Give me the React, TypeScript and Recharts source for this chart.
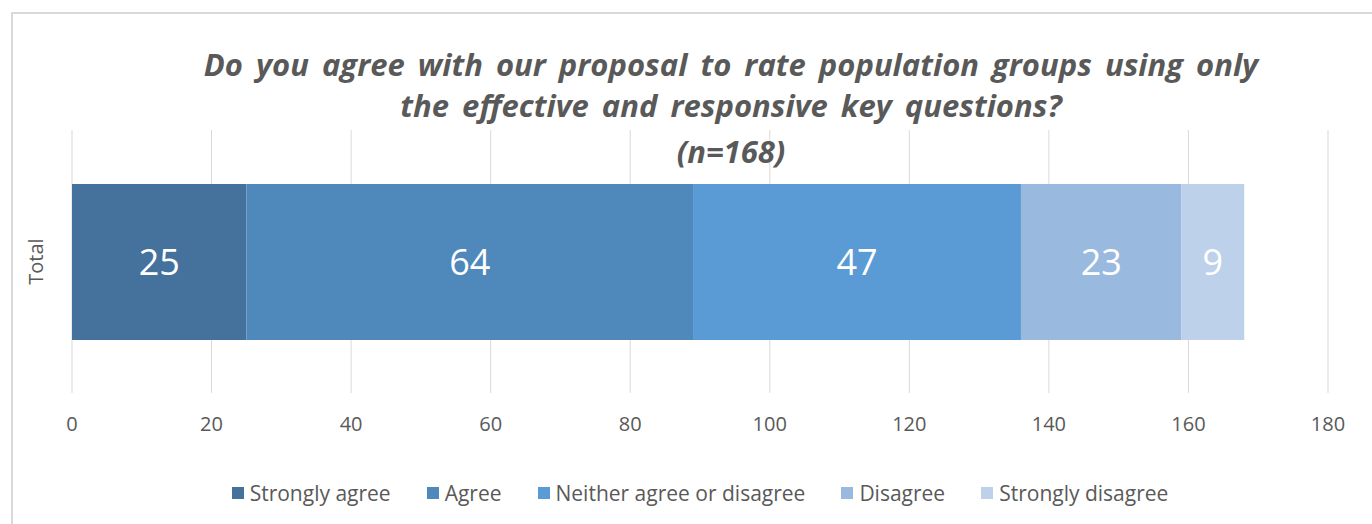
import { BarChart, Bar, XAxis, YAxis, CartesianGrid, Legend, LabelList } from 'recharts';

const CATEGORIES = ['Total'];
const SERIES = ['Strongly agree', 'Agree', 'Neither agree or disagree', 'Disagree', 'Strongly disagree'];
const VALUES = [25, 64, 47, 23, 9];
const COLORS = ['#44729D', '#4F88BB', '#5B9BD5', '#9AB9DF', '#BDD1EA'];
const X_TICKS = [0, 20, 40, 60, 80, 100, 120, 140, 160, 180];
const TITLE_LINES = [
  'Do you agree with our proposal to rate population groups using only',
  'the effective and responsive key questions?',
  '(n=168)',
];

const FONT = '"Open Sans", "Noto Sans", sans-serif';
const GREY = '#595959';
const GRID = '#d9d9d9';

const data = CATEGORIES.map((name) => {
  const row: Record<string, string | number> = { name };
  SERIES.forEach((s, i) => { row[s] = VALUES[i]; });
  return row;
});

function CategoryTick({ x, y, payload }: any) {
  const cx = x - 29;
  return (
    <text x={cx} y={y} transform={`rotate(-90 ${cx} ${y})`} textAnchor="middle" dominantBaseline="central"
      fill={GREY} fontSize={20} fontFamily={FONT}>
      {payload.value}
    </text>
  );
}

function LegendContent({ payload }: any) {
  const items = [...(payload || [])].sort((a: any, b: any) => SERIES.indexOf(a.value) - SERIES.indexOf(b.value));
  return (
    <div style={{ display: 'flex', justifyContent: 'center', gap: 36, fontFamily: FONT, fontSize: 21, color: GREY }}>
      {items.map((p: any) => (
        <span key={p.value} style={{ display: 'flex', alignItems: 'center' }}>
          <span style={{ width: 12, height: 12, background: p.color, marginRight: 6, display: 'inline-block' }} />
          {p.value}
        </span>
      ))}
    </div>
  );
}

export default function App() {
  return (
    <div style={{ position: 'relative', width: 1372, height: 524, overflow: 'hidden', background: '#fff' }}>
      <style>{'body{margin:0}'}</style>
      <div style={{ position: 'absolute', left: 11, top: 12, width: 1420, height: 600, border: `2px solid ${GRID}` }} />
      <BarChart width={1372} height={524} data={data} layout="vertical" barGap={0}
        margin={{ top: 130, right: 44, bottom: 101, left: 0 }}>
        <CartesianGrid horizontal={false} stroke={GRID} />
        <XAxis type="number" domain={[0, 180]} ticks={X_TICKS} height={30} axisLine={false} tickLine={false}
          tickMargin={18} tick={{ fill: GREY, fontSize: 20, fontFamily: FONT }} />
        <YAxis yAxisId="edge" type="number" domain={[0, 1]} ticks={[0, 1]} width={0} tick={false} tickSize={8}
          axisLine={{ stroke: GRID, strokeWidth: 2 }} tickLine={{ stroke: GRID, strokeWidth: 2 }} />
        <YAxis type="category" dataKey="name" width={72} axisLine={false} tickLine={false} tick={<CategoryTick />} />
        {SERIES.map((s, i) => (
          <Bar key={s} dataKey={s} stackId="a" fill={COLORS[i]} barSize={156} isAnimationActive={false}>
            <LabelList dataKey={s} position="center" fill="#fff" fontSize={36} fontFamily={FONT} />
          </Bar>
        ))}
        <Legend layout="horizontal" verticalAlign="middle" align="center" content={<LegendContent />}
          wrapperStyle={{ top: 479, left: 28, width: 1344 }} />
      </BarChart>
      <svg width={1372} height={200} style={{ position: 'absolute', left: 0, top: 0, pointerEvents: 'none' }}>
        {TITLE_LINES.map((t, i) => (
          <text key={t} x={731} y={[76, 117, 163][i]} textAnchor="middle" fontFamily={FONT} fontSize={31}
            fontWeight={700} fontStyle="italic" fill={GREY} wordSpacing={5}>
            {t}
          </text>
        ))}
      </svg>
    </div>
  );
}
